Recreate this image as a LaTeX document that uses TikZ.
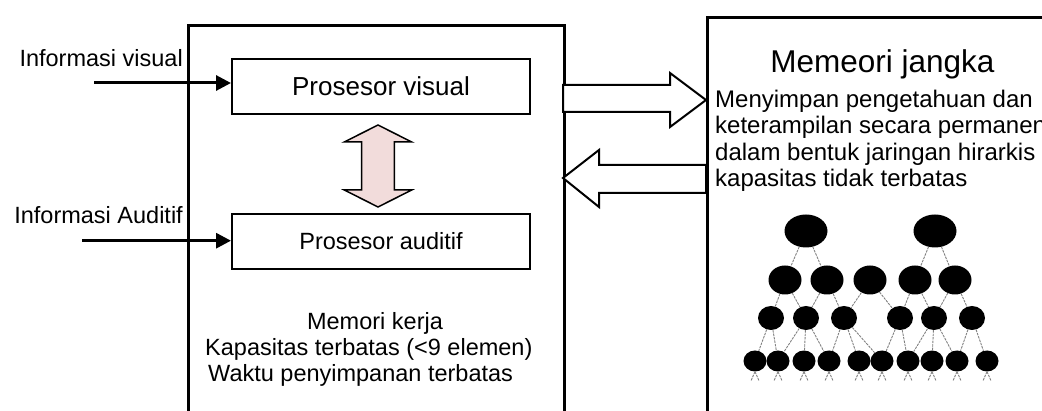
\documentclass[tikz,border=0pt]{standalone}
\usepackage{fontspec}
\setmainfont{Liberation Sans}
\usetikzlibrary{arrows.meta, positioning, shapes.geometric}

\definecolor{pinkfill}{HTML}{F2DCDB}

\begin{document}
\begin{tikzpicture}[
    x=1pt, y=-1pt,
    every node/.style={inner sep=0pt, font=\fontsize{23.5}{27}\selectfont},
    membox/.style={draw, line width=3pt, minimum width=376pt, minimum height=440pt, anchor=north west},
    procbox/.style={draw, line width=2pt, minimum width=298pt, minimum height=55pt},
    inarrow/.style={-{Triangle[length=15pt, width=15pt]}, line width=3pt},
    hollow/.style={draw, line width=2pt, fill=white, line join=miter},
    blob/.style={ellipse, fill=black},
    link/.style={gray, line width=0.9pt, dash pattern=on 2.5pt off 1pt}
]
\useasboundingbox (0,0) rectangle (1042,411);
\clip (0,0) rectangle (1042,411);

% working memory
\node[membox] (wm) at (187,24) {};
\node[procbox, font=\fontsize{26}{30}\selectfont] (pvis) at (381,86.5) {Prosesor visual};
\node[procbox] (paud) at (381,241.5) {Prosesor auditif};

\node[anchor=base east] (lblvis) at (183,67) {Informasi visual};
\node[anchor=base east] (lblaud) at (183,224) {Informasi Auditif};
\coordinate (srcvis) at (94,83);
\coordinate (srcaud) at (82,240.7);
\draw[inarrow] (srcvis) -- (srcvis -| pvis.west);
\draw[inarrow] (srcaud) -- (srcaud -| paud.west);

\draw[line width=1.5pt, fill=pinkfill, line join=miter]
    (378,125) -- (411.7,142) -- (394.3,142) -- (394.3,190) -- (411.7,190)
    -- (378,207) -- (344.3,190) -- (361.7,190) -- (361.7,142) -- (344.3,142) -- cycle;

\node[anchor=base] (memk) at (375,330) {Memori kerja};
\node[anchor=base west] (kap) at (205,356) {Kapasitas terbatas (<9 elemen)};
\node[anchor=base west] (wkt) at (208,382) {Waktu penyimpanan terbatas};

% long term memory
\node[membox, minimum width=400pt] (ltm) at (706,16) {};
\node[anchor=base, font=\fontsize{31.5}{36}\selectfont] (ltmtitle) at (882.5,73) {Memeori jangka};
\foreach \txt [count=\i] in {Menyimpan pengetahuan dan, keterampilan secara permanen,
    dalam bentuk jaringan hirarkis, kapasitas tidak terbatas}
  \node[anchor=base west, font=\fontsize{24}{28}\selectfont] (ltm\i) at (715,81.4+26.3*\i) {\txt};

% transfer arrows
\draw[hollow] (563,85) -- (670,85) -- (670,73) -- (706,100) -- (670,127) -- (670,112) -- (563,112) -- cycle;
\draw[hollow] (706,165) -- (599,165) -- (599,150) -- (563,178) -- (599,207) -- (599,193) -- (706,193) -- cycle;

% knowledge network
\foreach \x [count=\i] in {806,935}
  \node[blob, minimum width=43pt, minimum height=33pt] (na\i) at (\x,231) {};
\foreach \x [count=\i] in {785,827,870,915,955}
  \node[blob, minimum width=33pt, minimum height=29pt] (nb\i) at (\x,280) {};
\foreach \x [count=\i] in {771,806,844,900,934,972}
  \node[blob, minimum width=26pt, minimum height=24pt] (nc\i) at (\x,318) {};
\foreach \x [count=\i] in {755,778,804,829,859,882,908,932,957,987}
  \node[blob, minimum width=23pt, minimum height=21pt] (nd\i) at (\x,361) {};

\foreach \a/\b in {1/1,1/2,2/4,2/5}
  \draw[link] (na\a) -- (nb\b);
\foreach \a/\b in {1/1,1/2,2/2,2/3,3/3,3/4,4/4,4/5,5/5,5/6}
  \draw[link] (nb\a) -- (nc\b);
\foreach \a/\b in {1/1,1/2,2/2,2/3,2/4,3/4,3/5,3/6,4/6,4/7,5/7,5/8,5/9,6/9,6/10}
  \draw[link] (nc\a) -- (nd\b);
\foreach \i in {1,...,10} {
  \draw[link] (nd\i.south) -- ++(-4,9);
  \draw[link] (nd\i.south) -- ++(4,9);
}

\end{tikzpicture}
\end{document}
